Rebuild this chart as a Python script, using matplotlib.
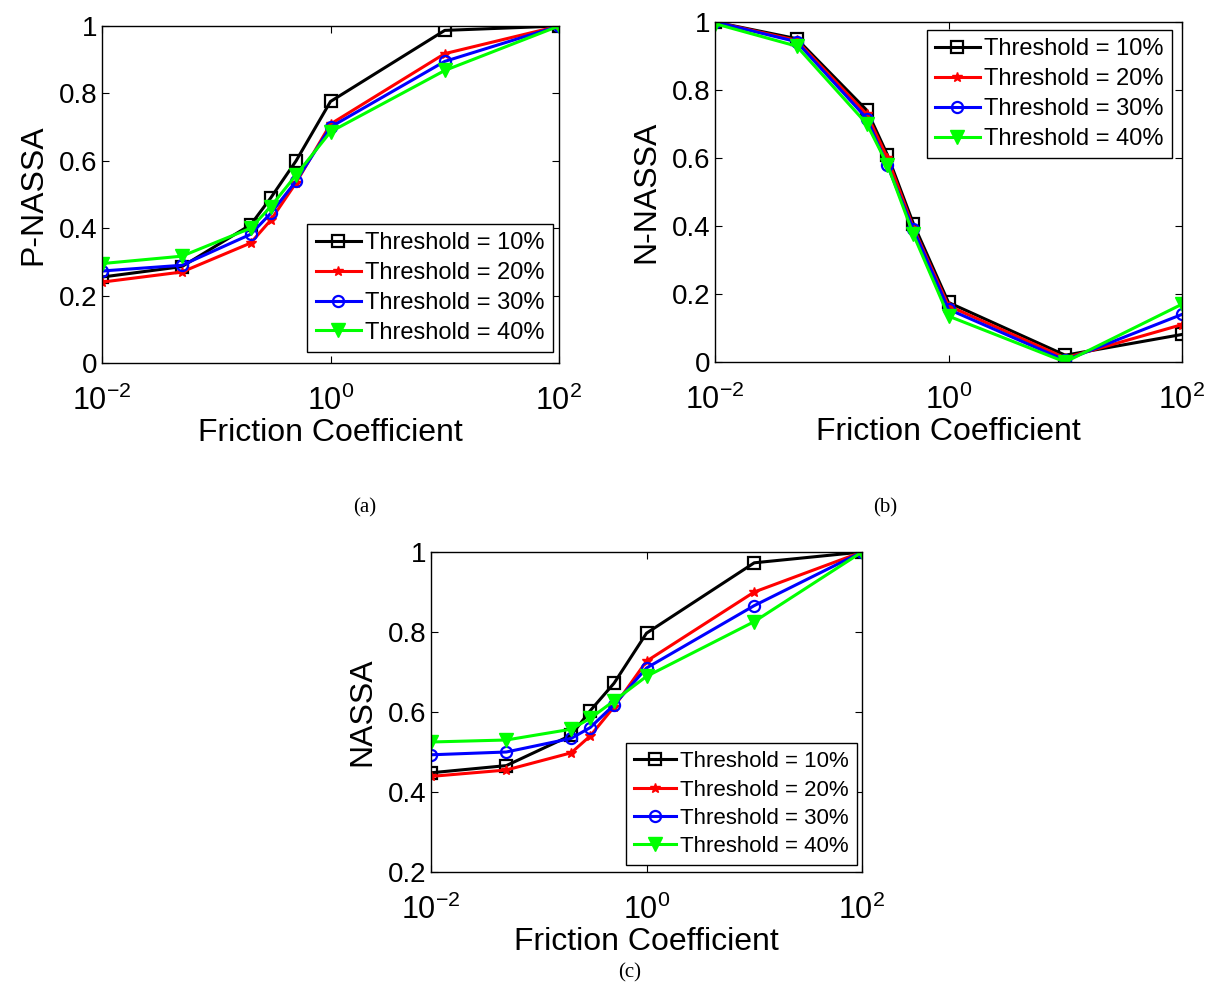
import numpy as np
import matplotlib
matplotlib.use("Agg")
import matplotlib.pyplot as plt

plt.rcParams['font.family'] = ['Liberation Sans', 'DejaVu Sans']
plt.rcParams['mathtext.default'] = 'regular'

# friction coefficient values (x axis)
friction = [0.01, 0.05, 0.2, 0.3, 0.5, 1, 10, 100]
labels = ['Threshold = 10%', 'Threshold = 20%', 'Threshold = 30%', 'Threshold = 40%']

# (a) P-NASSA
p_nassa_10 = [0.255, 0.286, 0.41, 0.49, 0.60, 0.776, 0.987, 1.0]
p_nassa_20 = [0.240, 0.270, 0.356, 0.424, 0.535, 0.709, 0.918, 1.0]
p_nassa_30 = [0.273, 0.290, 0.382, 0.444, 0.540, 0.700, 0.895, 1.0]
p_nassa_40 = [0.295, 0.317, 0.400, 0.464, 0.558, 0.686, 0.868, 1.0]

# (b) N-NASSA
n_nassa_10 = [1.0, 0.951, 0.740, 0.609, 0.407, 0.175, 0.020, 0.081]
n_nassa_20 = [1.0, 0.946, 0.728, 0.600, 0.395, 0.165, 0.012, 0.110]
n_nassa_30 = [1.0, 0.942, 0.716, 0.578, 0.390, 0.155, 0.005, 0.140]
n_nassa_40 = [0.995, 0.929, 0.700, 0.580, 0.375, 0.135, 0.0, 0.170]

# (c) NASSA
nassa_10 = [0.448, 0.466, 0.542, 0.603, 0.672, 0.797, 0.973, 1.0]
nassa_20 = [0.439, 0.455, 0.498, 0.540, 0.613, 0.727, 0.900, 1.0]
nassa_30 = [0.493, 0.500, 0.534, 0.561, 0.618, 0.710, 0.866, 1.0]
nassa_40 = [0.525, 0.530, 0.557, 0.584, 0.628, 0.689, 0.826, 1.0]

styles = [
    dict(color='k', marker='s', mfc='none', ms=8, mew=1.6),
    dict(color='r', marker='*', ms=7, mew=1.0),
    dict(color='b', marker='o', mfc='none', ms=8, mew=1.6),
    dict(color=(0, 1, 0), marker='v', ms=10, mew=1.0),
]

W, H = 1210, 988
fig = plt.figure(figsize=(W / 100, H / 100), dpi=100)


def make_axes(l, r, t, b):
    return fig.add_axes([l / W, 1 - b / H, (r - l) / W, (b - t) / H])


def draw(ax, series, ylabel, ylim, yticks, leg_loc, leg_anchor, fs_leg=17):
    for ys, lab, st in zip(series, labels, styles):
        ax.plot(friction, ys, lw=2.2, label=lab, **st)
    ax.set_xscale('log')
    ax.set_xlim(0.01, 100)
    ax.set_ylim(*ylim)
    ax.set_xticks([0.01, 1, 100])
    ax.set_xticklabels([r'$10^{-2}$', r'$10^{0}$', r'$10^{2}$'])
    ax.minorticks_off()
    ax.set_yticks(yticks)
    ax.set_yticklabels(['%g' % v for v in yticks])
    ax.tick_params(direction='in', top=True, right=True, length=5, width=0.8,
                   labelsize=20, pad=3)
    ax.tick_params(axis='x', pad=16, labelsize=22)
    for s in ax.spines.values():
        s.set_linewidth(1.0)
    ax.set_xlabel('Friction Coefficient', fontsize=23, labelpad=1)
    ax.set_ylabel(ylabel, fontsize=23, labelpad=8)
    leg = ax.legend(loc=leg_loc, bbox_to_anchor=leg_anchor, fontsize=fs_leg,
                    fancybox=False, edgecolor='k', framealpha=1,
                    handlelength=1.9, labelspacing=0.33, borderpad=0.35,
                    handletextpad=0.2, borderaxespad=0)
    leg.get_frame().set_linewidth(1.0)


ax_a = make_axes(102, 559, 26, 363)
draw(ax_a, [p_nassa_10, p_nassa_20, p_nassa_30, p_nassa_40], 'P-NASSA',
     (0, 1), [0, 0.2, 0.4, 0.6, 0.8, 1], 'lower right', (0.987, 0.033))

ax_b = make_axes(715, 1182, 22, 362)
draw(ax_b, [n_nassa_10, n_nassa_20, n_nassa_30, n_nassa_40], 'N-NASSA',
     (0, 1), [0, 0.2, 0.4, 0.6, 0.8, 1], 'upper right', (0.979, 0.976))

ax_c = make_axes(431, 862, 552, 872)
draw(ax_c, [nassa_10, nassa_20, nassa_30, nassa_40], 'NASSA',
     (0.2, 1), [0.2, 0.4, 0.6, 0.8, 1], 'lower right', (0.988, 0.022),
     fs_leg=16)

for txt, x, y in [('(a)', 365, 508), ('(b)', 885, 508), ('(c)', 630, 973)]:
    fig.text(x / W, 1 - y / H, txt, ha='center', va='center',
             fontsize=15, family='Liberation Serif')

fig.savefig('out.png', dpi=100, facecolor='white')
